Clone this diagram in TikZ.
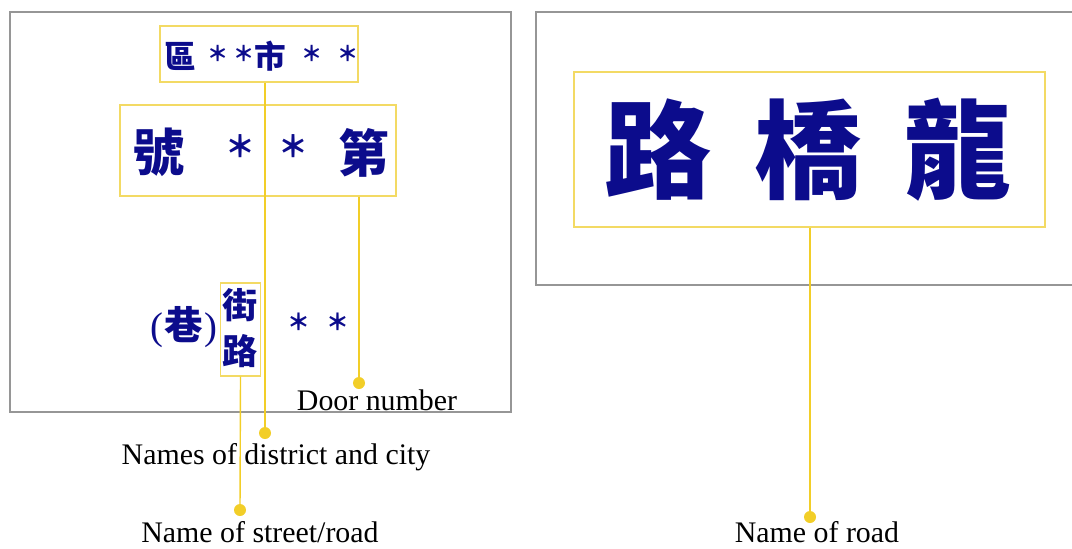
\documentclass[tikz,border=0pt]{standalone}
\usepackage{fontspec}
\setmainfont{Liberation Serif}
\newfontfamily\cjk{Noto Sans CJK TC}
\definecolor{signblue}{RGB}{12,12,140}
\definecolor{leadyellow}{RGB}{242,206,40}
\definecolor{boxyellow}{RGB}{243,218,100}
\definecolor{framegray}{RGB}{150,150,150}
\begin{document}
\begin{tikzpicture}[x=0.02cm,y=-0.02cm,
  frame/.style={draw=framegray,line width=0.8pt},
  ybox/.style={draw=boxyellow,line width=0.8pt,inner sep=0pt},
  lead/.style={draw=leadyellow,line width=0.8pt},
  dotnode/.style={circle,fill=leadyellow,inner sep=0pt,minimum size=0.24cm},
  glyph/.style={text=signblue,inner sep=0pt,font=\cjk\bfseries},
  caption/.style={text=black,inner sep=0pt,font=\fontsize{17}{20}\selectfont}]
\useasboundingbox (0,0) rectangle (1072,548);
% plates
\draw[frame] (10,12) rectangle (511,412);
\draw[frame] (1080,12) -- (536,12) -- (536,285) -- (1080,285);
% yellow boxes
\node[ybox,minimum width=3.96cm,minimum height=1.12cm] (top) at (259,54) {};
\node[ybox,minimum width=5.52cm,minimum height=1.82cm] (mid) at (258,150.5) {};
\node[ybox,minimum width=0.80cm,minimum height=1.86cm] (street) at (240.5,329.5) {};
\node[ybox,minimum width=9.42cm,minimum height=3.10cm] (road) at (809.5,149.5) {};
% top box text
\node[glyph,font=\cjk\bfseries\fontsize{18}{20}\selectfont] (t1) at (180,56) {區};
\node[glyph,font=\cjk\bfseries\fontsize{12}{14}\selectfont] (t2) at (218,53) {＊};
\node[glyph,font=\cjk\bfseries\fontsize{12}{14}\selectfont] (t3) at (244,53) {＊};
\node[glyph,font=\cjk\bfseries\fontsize{18}{20}\selectfont] (t4) at (270,56) {市};
\node[glyph,font=\cjk\bfseries\fontsize{12}{14}\selectfont] (t5) at (312,53) {＊};
\node[glyph,font=\cjk\bfseries\fontsize{12}{14}\selectfont] (t6) at (348,53) {＊};
% middle box text
\node[glyph,font=\cjk\bfseries\fontsize{29}{32}\selectfont] (m1) at (159,152) {號};
\node[glyph,font=\cjk\bfseries\fontsize{17}{20}\selectfont] (m2) at (240,146) {＊};
\node[glyph,font=\cjk\bfseries\fontsize{17}{20}\selectfont] (m3) at (293,146) {＊};
\node[glyph,font=\cjk\bfseries\fontsize{29}{32}\selectfont] (m4) at (364,153) {第};
% street text
\node[glyph,font=\cjk\bfseries\fontsize{20}{22}\selectfont] (s1) at (240,305) {街};
\node[glyph,font=\cjk\bfseries\fontsize{20}{22}\selectfont] (s2) at (240,351) {路};
\node[glyph,font=\fontsize{22}{24}\selectfont] (lane) at (184,327) {(\kern0.5pt{\cjk\bfseries 巷}\kern0.5pt)};
\node[glyph,font=\cjk\bfseries\fontsize{13}{16}\selectfont] (n1) at (299,322) {＊};
\node[glyph,font=\cjk\bfseries\fontsize{13}{16}\selectfont] (n2) at (338,322) {＊};
% right plate text
\node[glyph,font=\cjk\bfseries\fontsize{61}{64}\selectfont] (r1) at (658,150) {路};
\node[glyph,font=\cjk\bfseries\fontsize{61}{64}\selectfont] (r2) at (808,150) {橋};
\node[glyph,font=\cjk\bfseries\fontsize{61}{64}\selectfont] (r3) at (958,150) {龍};
% dots
\node[dotnode] (dDist) at (265,433) {};
\node[dotnode] (dDoor) at (359,383) {};
\node[dotnode] (dStreet) at (240,510) {};
\node[dotnode] (dRoad) at (810,517) {};
% leader lines
\draw[lead] (top.south -| dDist) -- (dDist.center);
\draw[lead] (mid.south -| dDoor) -- (dDoor.center);
\draw[lead] (street.south) -- (dStreet.center);
\draw[lead] (road.south -| dRoad) -- (dRoad.center);
% captions
\node[caption] (cDoor) at (377,400) {Door number};
\node[caption] (cDist) at (276,457) {Names of district and city};
\node[caption] (cStreet) at (260,532) {Name of street/road};
\node[caption] (cRoad) at (817,532) {Name of road};
\end{tikzpicture}
\end{document}
